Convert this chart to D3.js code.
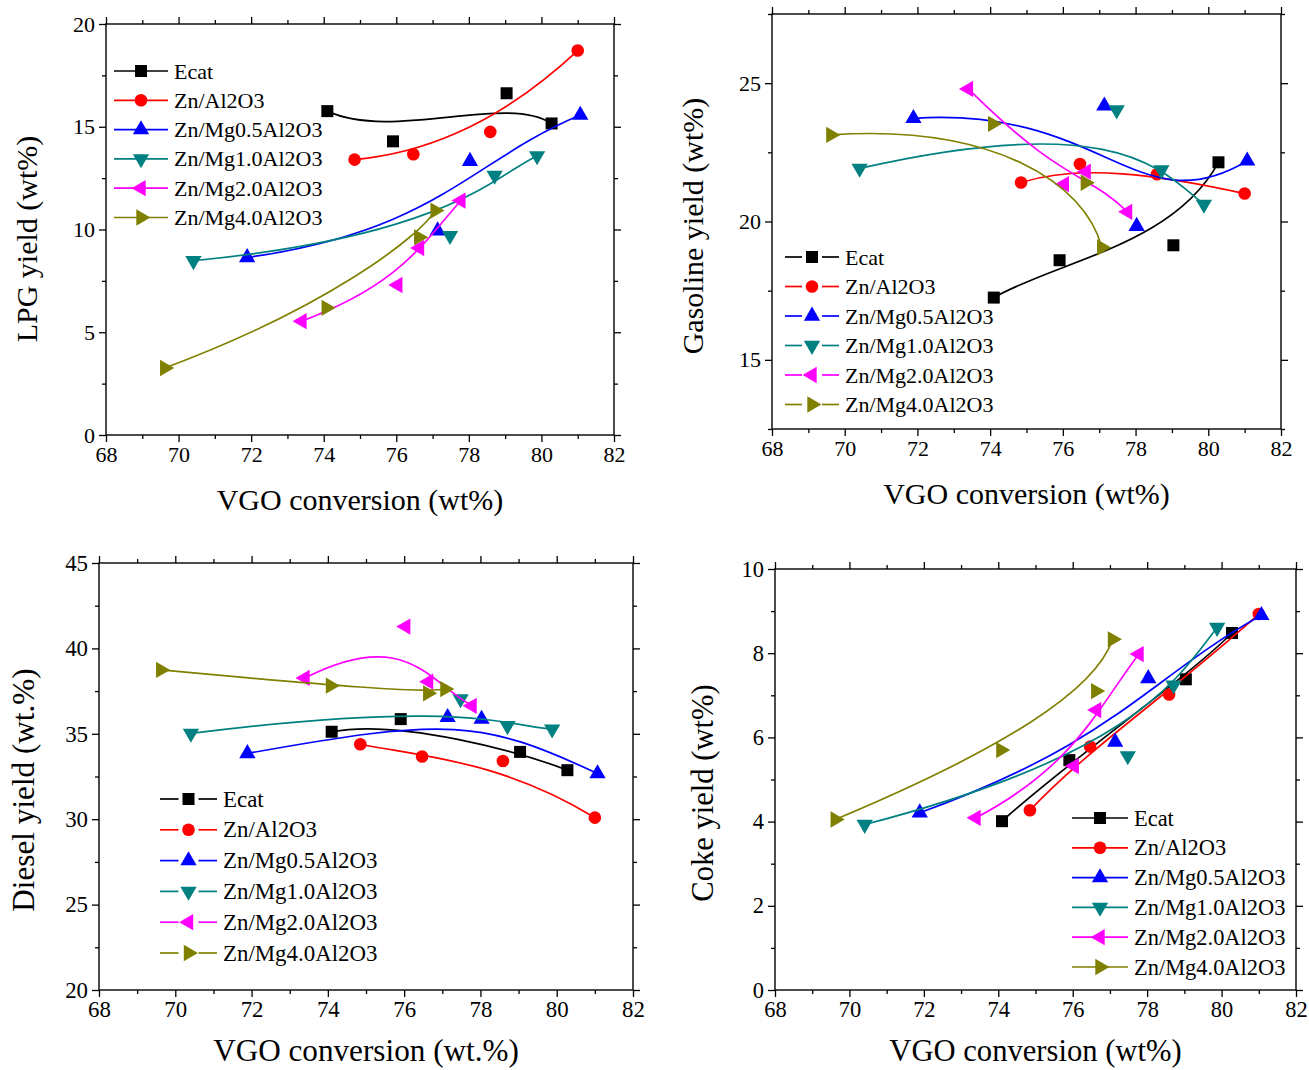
<!DOCTYPE html>
<html>
<head>
<meta charset="utf-8">
<script src="https://cdn.jsdelivr.net/npm/d3@7"></script>
<style>
  body { margin: 0; background: #fff; }
  svg { display: block; }
</style>
</head>
<body>
<div id="vis"></div>
<script>
// ---- data ----
const catalysts = ["Ecat", "Zn/Al2O3", "Zn/Mg0.5Al2O3", "Zn/Mg1.0Al2O3", "Zn/Mg2.0Al2O3", "Zn/Mg4.0Al2O3"];

// VGO conversion (wt%) for each catalyst, 4 runs each
const conversion = [
  [74.10, 75.91, 79.04, 80.28],
  [74.85, 76.47, 78.59, 81.00],
  [71.89, 77.14, 78.03, 81.07],
  [70.41, 77.48, 78.71, 79.88],
  [73.40, 76.04, 76.64, 77.78],
  [69.62, 74.07, 76.62, 77.07]
];

const lpgYield = [
  [15.76, 14.29, 16.63, 15.16],
  [13.40, 13.66, 14.75, 18.71],
  [8.64, 9.94, 13.32, 15.57],
  [8.48, 9.70, 12.63, 13.58],
  [5.54, 7.30, 9.10, 11.41],
  [3.26, 6.19, 9.62, 10.92]
];

const gasolineYield = [
  [17.25, 18.60, 19.14, 22.14],
  [21.41, 22.08, 21.71, 21.01],
  [23.73, 24.18, 19.83, 22.19],
  [21.92, 24.03, 21.86, 20.62],
  [24.79, 21.35, 21.80, 20.35],
  [23.13, 23.53, 21.40, 19.06]
];

const dieselYield = [
  [35.12, 35.86, 33.94, 32.87],
  [34.39, 33.67, 33.41, 30.09],
  [33.85, 35.96, 35.86, 32.67],
  [35.02, 37.04, 35.47, 35.27],
  [38.27, 41.28, 38.05, 36.64],
  [38.74, 37.82, 37.37, 37.62]
];

const cokeYield = [
  [4.01, 5.46, 7.38, 8.48],
  [4.27, 5.78, 7.02, 8.93],
  [4.21, 5.89, 7.40, 8.90],
  [3.93, 5.56, 7.24, 8.61],
  [4.09, 5.32, 6.65, 7.98],
  [4.05, 5.70, 7.10, 8.33]
];

const xTicks = [68, 70, 72, 74, 76, 78, 80, 82];
const xMinor = [69, 71, 73, 75, 77, 79, 81];

// ---- style ----
const COLORS = ["#000000", "#ff0000", "#0000ff", "#008080", "#ff00ff", "#808000"];
const SYMBOLS = [
  {type: d3.symbolSquare, size: 144, rot: 0},
  {type: d3.symbolCircle, size: 125, rot: 0},
  {type: d3.symbolTriangle, size: 115, rot: 0},
  {type: d3.symbolTriangle, size: 115, rot: 180},
  {type: d3.symbolTriangle, size: 115, rot: -90},
  {type: d3.symbolTriangle, size: 115, rot: 90}
];
const FONT = '"Liberation Serif", "Times New Roman", Times, serif';

// Origin's B-spline through 4 points = one cubic bezier (clamped)
function curveOriginBSpline(context) {
  return {
    areaStart() {}, areaEnd() {},
    lineStart() { this._p = []; },
    point(x, y) { this._p.push([+x, +y]); },
    lineEnd() {
      const p = this._p;
      context.moveTo(p[0][0], p[0][1]);
      if (p.length === 4) {
        context.bezierCurveTo(p[1][0], p[1][1], p[2][0], p[2][1], p[3][0], p[3][1]);
      } else {
        for (let i = 1; i < p.length; i++) context.lineTo(p[i][0], p[i][1]);
      }
    }
  };
}

const svg = d3.select("#vis").append("svg")
  .attr("width", 1309)
  .attr("height", 1070);

const panels = [
  {values: lpgYield, x0: 106, x1: 614, yBot: 435, yTop: 24, yDomain: [0, 20],
   yMajor: [0, 5, 10, 15, 20], yMinor: [2.5, 7.5, 12.5, 17.5],
   yTitle: "LPG yield (wt%)", xTitle: "VGO conversion (wt%)",
   yTitleX: 37, yTitleY: 239, xTitleY: 510, fs: 1,
   legend: {x: 114, y: 71, dy: 29.3, len: 54, gap: 0}},
  {values: gasolineYield, x0: 772, x1: 1281, yBot: 429, yTop: 14, yDomain: [12.5, 27.5],
   yMajor: [15, 20, 25], yMinor: [12.5, 17.5, 22.5, 27.5],
   yTitle: "Gasoline yield (wt%)", xTitle: "VGO conversion (wt%)",
   yTitleX: 703, yTitleY: 226, xTitleY: 504, fs: 1,
   legend: {x: 785, y: 257, dy: 29.5, len: 54, gap: 3}},
  {values: dieselYield, x0: 99, x1: 633, yBot: 990, yTop: 563, yDomain: [20, 45],
   yMajor: [20, 25, 30, 35, 40, 45], yMinor: [22.5, 27.5, 32.5, 37.5, 42.5],
   yTitle: "Diesel yield (wt.%)", xTitle: "VGO conversion (wt.%)",
   yTitleX: 34, yTitleY: 790, xTitleY: 1061, fs: 1.04,
   legend: {x: 160, y: 799, dy: 30.8, len: 57, gap: 3}},
  {values: cokeYield, x0: 775, x1: 1296, yBot: 990, yTop: 569, yDomain: [0, 10],
   yMajor: [0, 2, 4, 6, 8, 10], yMinor: [1, 3, 5, 7, 9],
   yTitle: "Coke yield (wt%)", xTitle: "VGO conversion (wt%)",
   yTitleX: 713, yTitleY: 793, xTitleY: 1061, fs: 1.02,
   legend: {x: 1072, y: 818, dy: 29.8, len: 56, gap: 0}}
];

function styleAxis(g, fs) {
  g.select(".domain").remove();
  g.selectAll("line").attr("stroke", "#000").attr("stroke-width", 1.3);
  g.selectAll("text")
    .attr("fill", "#000")
    .style("font-family", FONT)
    .style("font-size", (22 * fs) + "px");
}

function drawPanel(cfg) {
  const X = d3.scaleLinear().domain([68, 82]).range([cfg.x0, cfg.x1]);
  const Y = d3.scaleLinear().domain(cfg.yDomain).range([cfg.yBot, cfg.yTop]);
  const W = cfg.x1 - cfg.x0, H = cfg.yBot - cfg.yTop;
  const g = svg.append("g");

  // bottom axis
  g.append("g").attr("transform", "translate(0," + cfg.yBot + ")")
    .call(d3.axisBottom(X).tickValues(xTicks).tickSize(7).tickPadding(4).tickFormat(d3.format("d")))
    .call(a => styleAxis(a, cfg.fs));
  g.append("g").attr("transform", "translate(0," + cfg.yBot + ")")
    .call(d3.axisBottom(X).tickValues(xMinor).tickSize(4).tickFormat(""))
    .call(a => styleAxis(a, cfg.fs));
  // top mirror
  g.append("g").attr("transform", "translate(0," + cfg.yTop + ")")
    .call(d3.axisTop(X).tickValues(xTicks).tickSize(7).tickFormat(""))
    .call(a => styleAxis(a, cfg.fs));
  g.append("g").attr("transform", "translate(0," + cfg.yTop + ")")
    .call(d3.axisTop(X).tickValues(xMinor).tickSize(4).tickFormat(""))
    .call(a => styleAxis(a, cfg.fs));
  // left axis
  g.append("g").attr("transform", "translate(" + cfg.x0 + ",0)")
    .call(d3.axisLeft(Y).tickValues(cfg.yMajor).tickSize(7).tickPadding(4).tickFormat(d3.format("d")))
    .call(a => styleAxis(a, cfg.fs));
  g.append("g").attr("transform", "translate(" + cfg.x0 + ",0)")
    .call(d3.axisLeft(Y).tickValues(cfg.yMinor).tickSize(4).tickFormat(""))
    .call(a => styleAxis(a, cfg.fs));
  // right mirror
  g.append("g").attr("transform", "translate(" + cfg.x1 + ",0)")
    .call(d3.axisRight(Y).tickValues(cfg.yMajor).tickSize(7).tickFormat(""))
    .call(a => styleAxis(a, cfg.fs));
  g.append("g").attr("transform", "translate(" + cfg.x1 + ",0)")
    .call(d3.axisRight(Y).tickValues(cfg.yMinor).tickSize(4).tickFormat(""))
    .call(a => styleAxis(a, cfg.fs));

  // frame
  g.append("rect")
    .attr("x", cfg.x0).attr("y", cfg.yTop)
    .attr("width", W).attr("height", H)
    .attr("fill", "none").attr("stroke", "#000").attr("stroke-width", 1.4);

  // axis titles
  g.append("text")
    .attr("x", (cfg.x0 + cfg.x1) / 2).attr("y", cfg.xTitleY)
    .attr("text-anchor", "middle")
    .style("font-family", FONT).style("font-size", (30 * cfg.fs) + "px")
    .text(cfg.xTitle);
  g.append("text")
    .attr("transform", "translate(" + cfg.yTitleX + "," + cfg.yTitleY + ") rotate(-90)")
    .attr("text-anchor", "middle")
    .style("font-family", FONT).style("font-size", (30 * cfg.fs) + "px")
    .text(cfg.yTitle);

  // series
  const line = d3.line()
    .x(d => X(d[0]))
    .y(d => Y(d[1]))
    .curve(curveOriginBSpline);

  catalysts.forEach((name, i) => {
    const pts = conversion[i].map((c, j) => [c, cfg.values[i][j]]);
    g.append("path")
      .attr("d", line(pts))
      .attr("fill", "none")
      .attr("stroke", COLORS[i])
      .attr("stroke-width", 1.7);
    const sym = d3.symbol().type(SYMBOLS[i].type).size(SYMBOLS[i].size);
    g.selectAll(".pt" + i)
      .data(pts)
      .enter()
      .append("path")
        .attr("class", "pt" + i)
        .attr("d", sym)
        .attr("transform", d => "translate(" + X(d[0]) + "," + Y(d[1]) + ") rotate(" + SYMBOLS[i].rot + ")")
        .attr("fill", COLORS[i]);
  });

  // legend
  const L = cfg.legend;
  catalysts.forEach((name, i) => {
    const y = L.y + i * L.dy;
    const mid = L.x + L.len / 2;
    const row = g.append("g");
    if (L.gap > 0) {
      row.append("line").attr("x1", L.x).attr("x2", mid - 7 - L.gap)
        .attr("y1", y).attr("y2", y).attr("stroke", COLORS[i]).attr("stroke-width", 1.7);
      row.append("line").attr("x1", mid + 7 + L.gap).attr("x2", L.x + L.len)
        .attr("y1", y).attr("y2", y).attr("stroke", COLORS[i]).attr("stroke-width", 1.7);
    } else {
      row.append("line").attr("x1", L.x).attr("x2", L.x + L.len)
        .attr("y1", y).attr("y2", y).attr("stroke", COLORS[i]).attr("stroke-width", 1.7);
    }
    row.append("path")
      .attr("d", d3.symbol().type(SYMBOLS[i].type).size(SYMBOLS[i].size)())
      .attr("transform", "translate(" + mid + "," + y + ") rotate(" + SYMBOLS[i].rot + ")")
      .attr("fill", COLORS[i]);
    row.append("text")
      .attr("x", L.x + L.len + 6).attr("y", y + 7.5)
      .style("font-family", FONT).style("font-size", (22 * cfg.fs) + "px")
      .text(name);
  });
}

panels.forEach(drawPanel);
</script>
</body>
</html>
